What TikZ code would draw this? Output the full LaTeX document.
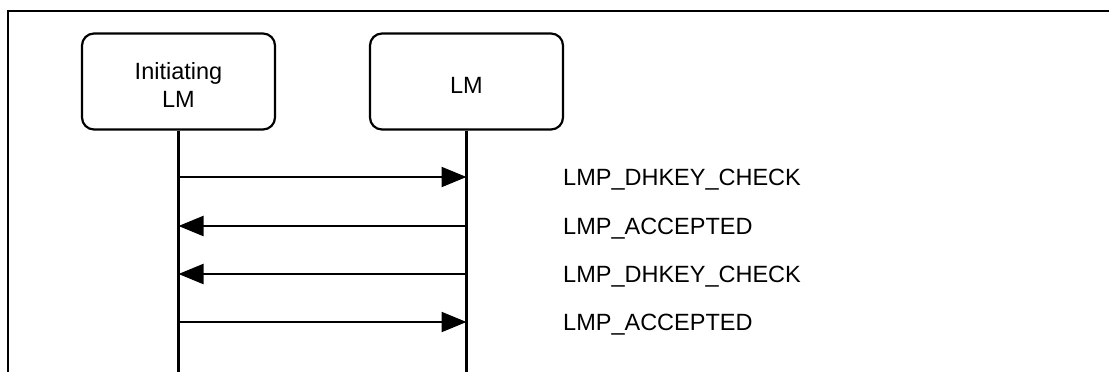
\documentclass[tikz,border=0pt]{standalone}
\usepackage{fontspec}
\setmainfont{Liberation Sans}
\usetikzlibrary{arrows.meta}
\tikzset{
  lmbox/.style={draw, line width=2.2pt, rounded corners=12pt, minimum width=193pt, minimum height=96pt, inner sep=0pt, align=center, font=\fontsize{23.5}{28}\selectfont, text depth=0pt},
  lifeline/.style={line width=2.2pt},
  msg/.style={line width=2.2pt, -{Triangle[length=25pt 0 0, width=20pt 0 0]}},
  msglabel/.style={anchor=west, inner sep=0pt, font=\fontsize{23.5}{28}\selectfont, text height=16.8pt, text depth=0pt},
  frameline/.style={line width=2.2pt}
}
\begin{document}
\begin{tikzpicture}[x=1pt,y=-1pt]
\useasboundingbox (0,0) rectangle (1109,372);
% frame
\coordinate (fbl) at (8,372);
\coordinate (ftl) at (8,11);
\coordinate (ftr) at (1109,11);
\draw[frameline] (fbl) -- (ftl) -- (ftr);
% boxes
\node[lmbox, text height=51pt] (a) at (178.5,81.5) {Initiating\\LM};
\node[lmbox, text height=23.6pt] (b) at (466.5,81.5) {LM};
% lifeline ends
\coordinate (aend) at (178.5,372);
\coordinate (bend) at (466.5,372);
\draw[lifeline] (a.south) -- (aend);
\draw[lifeline] (b.south) -- (bend);
% message points
\foreach \i/\y in {1/177,2/226,3/274,4/322}{
  \coordinate (a\i) at (178.5,\y);
  \coordinate (b\i) at (466.5,\y);
}
\draw[msg] (a1) -- (b1);
\draw[msg] (b2) -- (a2);
\draw[msg] (b3) -- (a3);
\draw[msg] (a4) -- (b4);
% labels
\node[msglabel] (l1) at (563,177) {LMP\_DHKEY\_CHECK};
\node[msglabel] (l2) at (563,226) {LMP\_ACCEPTED};
\node[msglabel] (l3) at (563,274) {LMP\_DHKEY\_CHECK};
\node[msglabel] (l4) at (563,322) {LMP\_ACCEPTED};
\end{tikzpicture}
\end{document}
